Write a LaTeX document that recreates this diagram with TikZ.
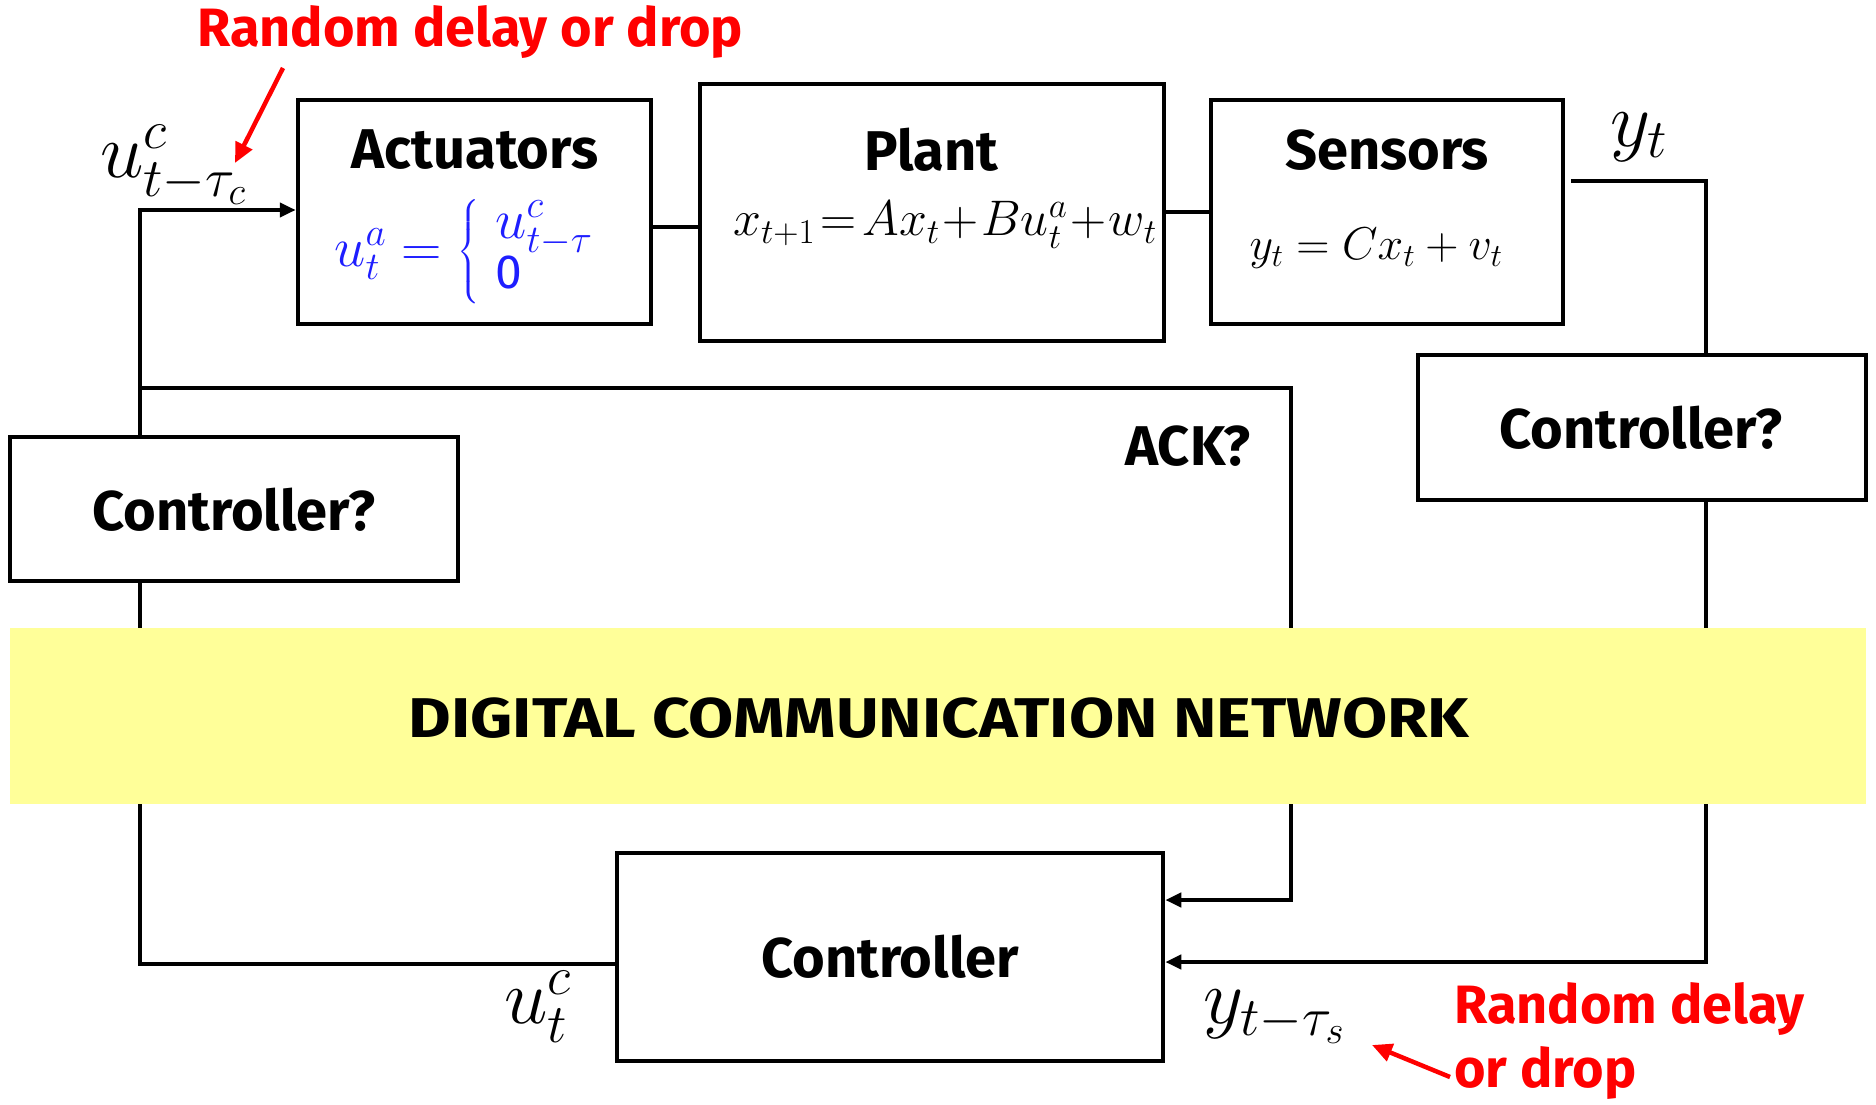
\RequirePackage{fix-cm}
\documentclass[tikz,border=0pt]{standalone}
\usepackage{amsmath}
\usepackage{fontspec}
\newfontfamily\csf{Fira Sans}
\usetikzlibrary{arrows.meta}
\definecolor{netyellow}{RGB}{255,255,153}
\definecolor{myred}{RGB}{255,0,0}
\definecolor{myblue}{RGB}{30,30,255}
\newcommand{\setfs}[1]{\fontsize{#1}{#1}\selectfont}
\begin{document}
\begin{tikzpicture}[x=1pt,y=-1pt,
  box/.style={draw,line width=4.5pt,inner sep=0pt},
  conn/.style={line width=4pt},
  lbl/.style={font=\csf\bfseries\setfs{56}, inner sep=0pt},
  rlbl/.style={font=\csf\bfseries\setfs{54}, text=myred, inner sep=0pt},
  mth/.style={font=\setfs{46}, inner sep=0pt},
  sig/.style={font=\setfs{78}, inner sep=0pt},
  redarr/.style={draw=myred,line width=4.5pt,-{Triangle[length=20pt,width=18pt]}},
  blkarr/.style={-{Triangle[length=16pt,width=14pt]}}
]
\useasboundingbox (0,0) rectangle (1876,1105);

% boxes
\node[box,minimum width=353pt,minimum height=224pt] (act) at (474.5,212) {};
\node[box,minimum width=464pt,minimum height=257pt] (plant) at (932,212.5) {};
\node[box,minimum width=352pt,minimum height=224pt] (sens) at (1387,212) {};
\node[box,minimum width=448pt,minimum height=145pt] (ctrR) at (1642,427.5) {};
\node[box,minimum width=448pt,minimum height=144pt] (ctrL) at (234,509) {};
\node[box,minimum width=546pt,minimum height=208pt] (ctrl) at (890,957) {};

% helper coordinates
\coordinate (Lx) at (140,0);
\coordinate (Ax) at (1291,0);
\coordinate (Rx) at (1706,0);
\coordinate (Sx) at (1571,0);
\coordinate (yact) at (0,210);
\coordinate (yack) at (0,388);
\coordinate (yackin) at (0,900);
\coordinate (yout) at (0,964);
\coordinate (yin) at (0,962);
\coordinate (ysen) at (0,181);
\coordinate (yap) at (0,227);
\coordinate (yps) at (0,212);

% connectors
\draw[conn] (act.east |- yap) -- (plant.west |- yap);
\draw[conn] (plant.east |- yps) -- (sens.west |- yps);
\draw[conn,blkarr] (ctrL.north -| Lx) -- (Lx |- yact) -- (act.west |- yact);
\draw[conn] (ctrl.west |- yout) -- (Lx |- yout) -- (ctrL.south -| Lx);
\draw[conn,blkarr] (Lx |- yack) -- (Ax |- yack) -- (Ax |- yackin) -- (ctrl.east |- yackin);
\draw[conn] (Sx |- ysen) -- (Rx |- ysen) -- (ctrR.north -| Rx);
\draw[conn,blkarr] (ctrR.south -| Rx) -- (Rx |- yin) -- (ctrl.east |- yin);

% network band
\node[fill=netyellow,minimum width=1856pt,minimum height=176pt,inner sep=0pt] (net) at (938,716) {};
\node[lbl] (nettxt) at (939,718) {\scalebox{1.17}[1]{DIGITAL COMMUNICATION NETWORK}};

% box texts
\node[lbl] (acttxt) at (475,150) {Actuators};
\node[inner sep=0pt,text=myblue,font=\setfs{56}] (actf) at (464,252)
  {\def\arraystretch{0.85}$u^a_t = \left\{\begin{array}{@{\;}l@{}} u^c_{t-\tau}\\ \hbox{\csf\setfs{48}0}\end{array}\right.$};
\node[lbl] (planttxt) at (931,150) {Plant};
\node[mth,font=\setfs{50}] (plantf) at (945,225) {$x_{t+1}\!=\!Ax_t\!+\!Bu^a_t\!+\!w_t$};
\node[lbl] (senstxt) at (1387,150) {Sensors};
\node[mth] (sensf) at (1376,248) {$y_t = Cx_t + v_t$};
\node[lbl] (ctrRtxt) at (1641,428) {Controller?};
\node[lbl] (ctrLtxt) at (234,510) {Controller?};
\node[lbl] (ctrltxt) at (890,957) {Controller};
\node[lbl] (ack) at (1188,446) {ACK?};

% signal labels
\node[sig] (uin) at (173,165) {$u^c_{t-\tau_c}$};
\node[sig] (yt) at (1639,137) {$y_t$};
\node[sig] (uct) at (538,1007) {$u^c_t$};
\node[sig] (yts) at (1274,1017) {$y_{t-\tau_s}$};

% red annotations
\node[rlbl] (rtop) at (470,32) {Random delay or drop};
\node[rlbl,anchor=west] (rb1) at (1454,1009) {Random delay};
\node[rlbl,anchor=west] (rb2) at (1454,1073) {or drop};
\coordinate (r1s) at (283,68);
\coordinate (r1e) at (235,163);
\coordinate (r2s) at (1450,1077);
\coordinate (r2e) at (1372,1045);
\draw[redarr] (r1s) -- (r1e);
\draw[redarr] (r2s) -- (r2e);
\end{tikzpicture}
\end{document}
